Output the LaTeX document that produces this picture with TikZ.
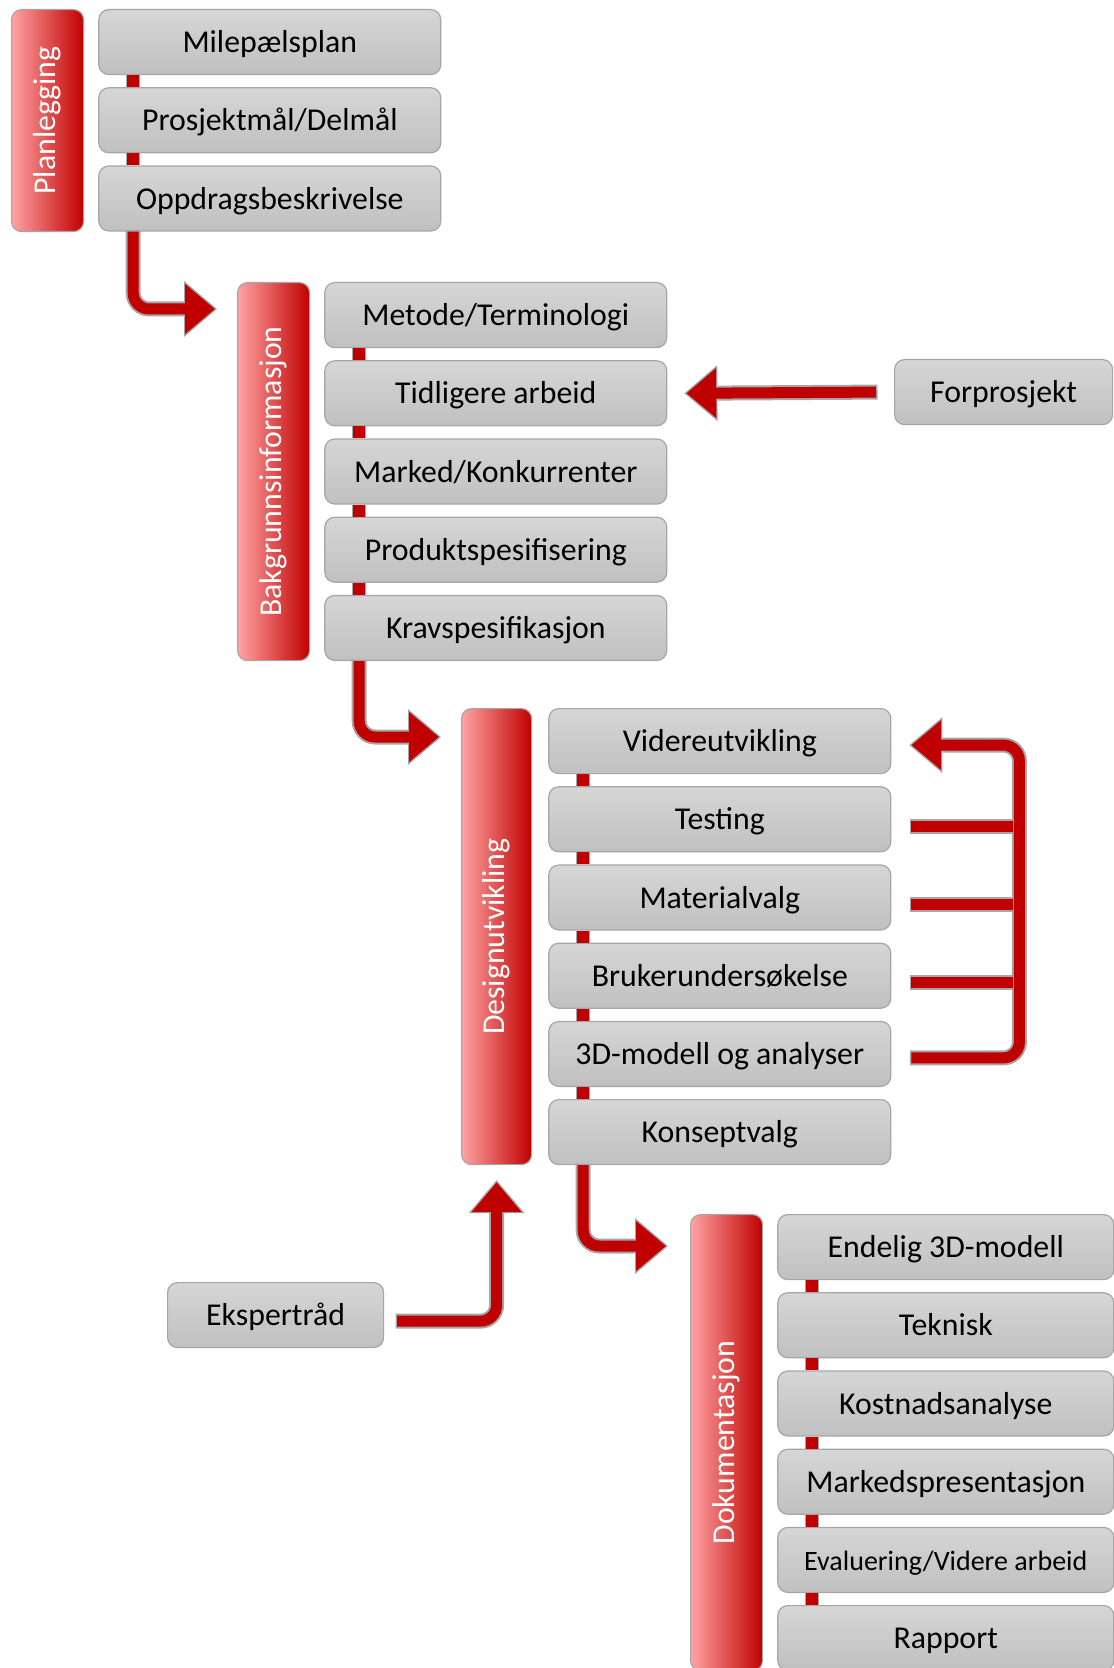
\documentclass[tikz,border=0pt]{standalone}
\usepackage{fontspec}
\setmainfont{Carlito}
\usepackage{xcolor}
\usepackage{tikz}
\usetikzlibrary{positioning,arrows.meta}

\definecolor{barred}{HTML}{C00000}
\definecolor{barpink}{HTML}{FFA3A3}
\definecolor{boxtop}{HTML}{D6D6D6}
\definecolor{boxbot}{HTML}{C0C0C0}
\definecolor{edgegray}{HTML}{A6A6A6}

\newcommand{\boxfont}{\fontsize{15.9}{18}\selectfont}

\tikzset{
  phase/.style={draw=edgegray, line width=0.6pt, rounded corners=5pt,
    left color=barpink, right color=barred, minimum width=36pt, anchor=north west,
    label={[rotate=90, text=white, font=\boxfont]center:#1}},
  task/.style={draw=edgegray, line width=0.6pt, rounded corners=5pt,
    top color=boxtop, bottom color=boxbot, minimum width=171pt, minimum height=32.5pt,
    inner sep=0pt, text height=10.6pt, text depth=0pt, font=\boxfont},
  link/.style={draw=edgegray, line width=7pt, postaction={draw=barred, line width=6pt}},
  pipe/.style={draw=edgegray, line width=7.5pt, shorten <=-0.75pt,
    postaction={draw=barred, line width=5.5pt, shorten <=0pt}},
  flow/.style={draw=edgegray, line width=7.5pt, rounded corners=8pt, shorten <=-0.75pt,
    -{Triangle[length=16.5pt,width=28pt,line width=0pt]},
    postaction={draw=barred, line width=5.5pt, shorten <=0pt, shorten >=1.1pt,
      -{Triangle[length=14.8pt,width=25pt,line width=0pt]}}}
}

\begin{document}
\begin{tikzpicture}[x=0.5pt,y=-0.5pt]
  \useasboundingbox (0,0) rectangle (1113,1668);

  % Planlegging
  \node[phase=Planlegging, minimum height=111pt] (plan) at (11,9) {};
  \node[task, right=7pt of plan.north east, anchor=north west] (mil) {Milepælsplan};
  \node[task, below=6pt of mil] (prj) {Prosjektmål/Delmål};
  \node[task, below=6pt of prj] (opp) {Oppdragsbeskrivelse};

  % Bakgrunnsinformasjon
  \node[phase=Bakgrunnsinformasjon, minimum height=189pt] (bak) at (237,282) {};
  \node[task, right=7pt of bak.north east, anchor=north west] (met) {Metode/Terminologi};
  \node[task, below=6pt of met] (tid) {Tidligere arbeid};
  \node[task, below=6pt of tid] (mrk) {Marked/Konkurrenter};
  \node[task, below=6pt of mrk] (prd) {Produktspesifisering};
  \node[task, below=6pt of prd] (krv) {Kravspesifikasjon};

  % Designutvikling
  \node[phase=Designutvikling, minimum height=228pt, minimum width=35pt] (des) at (461,708) {};
  \node[task, right=8pt of des.north east, anchor=north west] (vid) {Videreutvikling};
  \node[task, below=6pt of vid] (tst) {Testing};
  \node[task, below=6pt of tst] (mat) {Materialvalg};
  \node[task, below=6pt of mat] (bru) {Brukerundersøkelse};
  \node[task, below=6pt of bru] (d3) {3D-modell og analyser};
  \node[task, below=6pt of d3] (kon) {Konseptvalg};

  % Dokumentasjon
  \node[phase=Dokumentasjon, minimum height=228pt] (dok) at (690,1214) {};
  \node[task, minimum width=168pt, right=7pt of dok.north east, anchor=north west] (end) {Endelig 3D-modell};
  \node[task, minimum width=168pt, below=6pt of end] (tek) {Teknisk};
  \node[task, minimum width=168pt, below=6pt of tek] (kos) {Kostnadsanalyse};
  \node[task, minimum width=168pt, below=6pt of kos] (mpr) {Markedspresentasjon};
  \node[task, minimum width=168pt, below=6pt of mpr, font=\fontsize{14}{16}\selectfont] (eva) {Evaluering/Videre arbeid};
  \node[task, minimum width=168pt, below=6pt of eva] (rap) {Rapport};

  % innspill utenfra
  \node[task, minimum width=109pt, anchor=north west] (forp) at (894,359) {Forprosjekt};
  \node[task, minimum width=108pt, anchor=north west] (eks) at (167,1282) {Ekspertråd};

  \foreach \a/\b in {mil/prj, prj/opp, met/tid, tid/mrk, mrk/prd, prd/krv,
      vid/tst, tst/mat, mat/bru, bru/d3, d3/kon, end/tek, tek/kos, kos/mpr, mpr/eva, eva/rap}
    \draw[link] ([xshift=17.5pt]\a.south west) -- ([xshift=17.5pt]\b.north west);

  % fase til fase
  \draw[flow] ([xshift=17.5pt]opp.south west) |- ([xshift=-10pt,yshift=-13.5pt]bak.north west);
  \draw[flow] ([xshift=17.5pt]krv.south west) |- ([xshift=-10pt,yshift=-14.5pt]des.north west);
  \draw[flow] ([xshift=17.5pt]kon.south west) |- ([xshift=-11pt,yshift=-16pt]dok.north west);

  \draw[flow] ([xshift=-9pt]forp.west) -- ([xshift=8.5pt]tid.east);
  \draw[flow] ([xshift=6.5pt,yshift=-3pt]eks.east) -| ([yshift=-7.5pt]des.south);

  % tilbakekobling
  \draw[flow] ([xshift=10pt,yshift=-2pt]d3.east) -| ([xshift=64pt,yshift=-2pt]vid.east)
    -- ([xshift=9pt,yshift=-2pt]vid.east);
  \foreach \r in {tst, mat, bru}
    \draw[pipe] ([xshift=10pt,yshift=-3.5pt]\r.east) -- ([xshift=61pt,yshift=-3.5pt]\r.east);
\end{tikzpicture}
\end{document}
